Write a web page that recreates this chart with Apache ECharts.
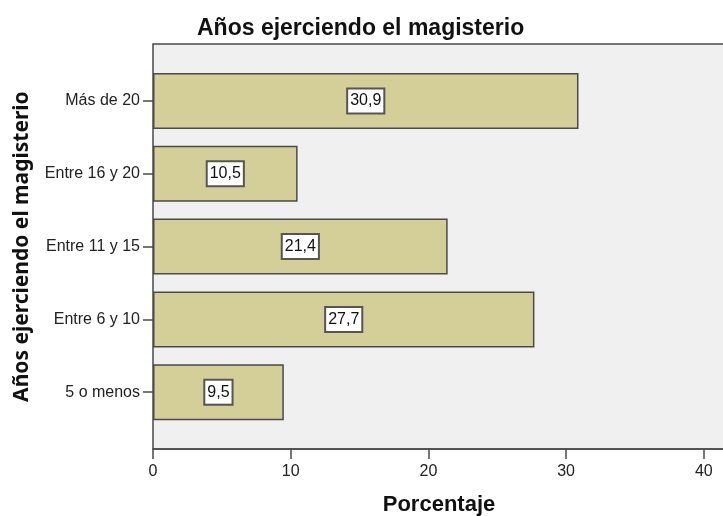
<!DOCTYPE html>
<html>
<head>
<meta charset="utf-8">
<script src="https://cdn.jsdelivr.net/npm/echarts@6/dist/echarts.min.js"></script>
<style>
  html, body { margin: 0; padding: 0; background: #ffffff; }
  #chart { width: 723px; height: 516px; }
</style>
</head>
<body>
<div id="chart"></div>
<script>
// Years of teaching experience, percentage of respondents
const categories = ['5 o menos', 'Entre 6 y 10', 'Entre 11 y 15', 'Entre 16 y 20', 'Más de 20'];
const percentages = [9.5, 27.7, 21.4, 10.5, 30.9];
const xTicks = [0, 10, 20, 30, 40];

const chart = echarts.init(document.getElementById('chart'), null, { renderer: 'canvas' });

const xMin = 0;
const xMax = 41.54;
const axisColor = '#4a4a4a';
const textColor = '#222222';

const option = {
  backgroundColor: '#ffffff',
  animation: false,
  title: {
    text: 'Años ejerciendo el magisterio',
    left: 192,
    top: 12,
    textStyle: {
      fontFamily: 'Liberation Sans',
      fontWeight: 'bold',
      fontSize: 23,
      color: '#111111'
    }
  },
  grid: [
    // outer plot frame (right border runs past the canvas edge)
    {
      left: 153, right: -2, top: 44, bottom: 67,
      containLabel: false,
      outerBoundsMode: 'none',
      show: true,
      backgroundColor: '#f0f0f0',
      borderColor: axisColor,
      borderWidth: 1.5
    },
    // band area holding the bars
    {
      left: 153, right: -2, top: 64.6, height: 364,
      containLabel: false,
      outerBoundsMode: 'none'
    }
  ],
  xAxis: [
    {
      gridIndex: 0,
      type: 'value',
      min: xMin,
      max: xMax,
      interval: 10,
      name: 'Porcentaje',
      nameLocation: 'middle',
      nameGap: 45,
      nameTextStyle: {
        fontFamily: 'Liberation Sans',
        fontWeight: 'bold',
        fontSize: 22,
        color: '#111111'
      },
      axisLine: { show: true, lineStyle: { color: axisColor, width: 1.5 } },
      axisTick: { show: true, length: 10, lineStyle: { color: axisColor, width: 1.5 } },
      axisLabel: {
        margin: 15,
        fontFamily: 'Liberation Sans',
        fontSize: 16,
        color: textColor,
        showMaxLabel: false,
        formatter: function (v) { return xTicks.indexOf(v) >= 0 ? String(v) : ''; }
      },
      splitLine: { show: false }
    },
    {
      gridIndex: 1,
      type: 'value',
      min: xMin,
      max: xMax,
      show: false
    }
  ],
  yAxis: [
    {
      gridIndex: 0,
      type: 'value',
      show: false
    },
    {
      gridIndex: 1,
      type: 'category',
      data: categories,
      name: 'Años ejerciendo el magisterio',
      nameLocation: 'middle',
      nameRotate: 90,
      nameGap: 120,
      nameTextStyle: {
        fontFamily: 'Noto Sans',
        fontWeight: 'bold',
        fontSize: 21,
        color: '#111111'
      },
      axisLine: { show: false },
      axisTick: { show: true, alignWithLabel: true, length: 10, lineStyle: { color: axisColor, width: 1.5 } },
      axisLabel: {
        margin: 13,
        fontFamily: 'Liberation Sans',
        fontSize: 16,
        color: textColor
      },
      splitLine: { show: false }
    }
  ],
  series: [
    {
      type: 'bar',
      xAxisIndex: 1,
      yAxisIndex: 1,
      data: percentages,
      barWidth: 56,
      itemStyle: {
        color: '#d4cf98',
        borderColor: '#4a4a4a',
        borderWidth: 1.5
      },
      label: {
        show: true,
        position: 'inside',
        formatter: function (p) { return p.value.toFixed(1).replace('.', ','); },
        fontFamily: 'Liberation Sans',
        fontSize: 16,
        lineHeight: 18,
        color: '#111111',
        backgroundColor: '#ffffff',
        borderColor: '#555555',
        borderWidth: 2,
        padding: [3, 2, 2, 2]
      }
    }
  ]
};

chart.setOption(option);
</script>
</body>
</html>
